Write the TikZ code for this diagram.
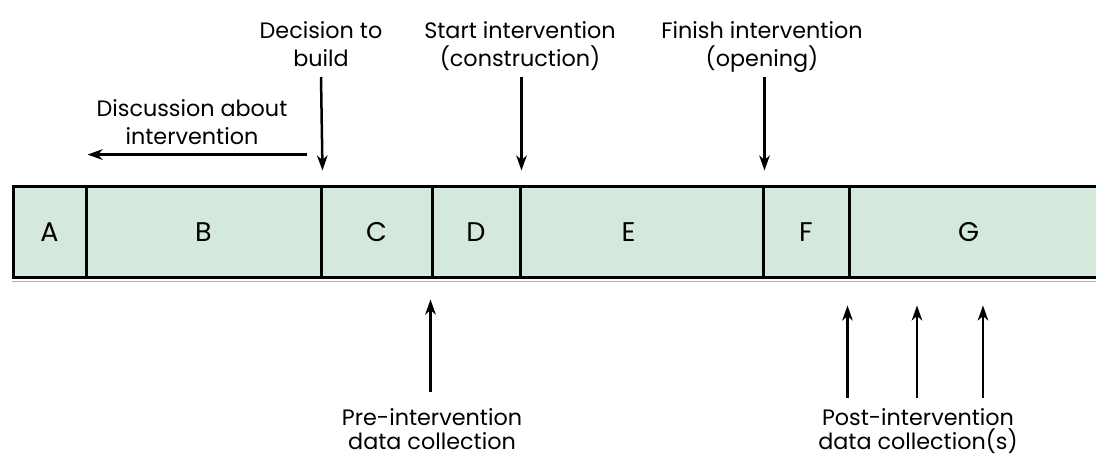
\documentclass[tikz,border=0pt]{standalone}
\usepackage{fontspec}
\setmainfont{Poppins}
\usetikzlibrary{arrows.meta,calc}
\definecolor{cellgreen}{HTML}{D5E8DC}
\begin{document}
\begin{tikzpicture}[x=1pt,y=-1pt,
  cell/.style={draw=black, line width=3pt, fill=cellgreen, minimum height=91pt,
    inner sep=0pt, font=\fontsize{27}{30}\selectfont},
  lbl/.style={align=center, inner sep=0pt, font=\fontsize{22.3}{28}\selectfont},
  lblb/.style={align=center, inner sep=0pt, font=\fontsize{22.3}{24.5}\selectfont},
  arr/.style={line width=2.5pt, -{Stealth[length=15pt,width=10.5pt,inset=4.5pt]}}]
\useasboundingbox (0,0) rectangle (1096,457);
\begin{scope}
\clip (0,0) rectangle (1096,457);
\node[cell, minimum width=73pt]  (A) at (49.5,232.5) {A};
\node[cell, minimum width=235pt] (B) at (203.5,232.5) {B};
\node[cell, minimum width=111pt] (C) at (376.5,232.5) {C};
\node[cell, minimum width=88pt]  (D) at (476,232.5) {D};
\node[cell, minimum width=243pt] (E) at (641.5,232.5) {E\kern26pt};
\node[cell, minimum width=86pt]  (F) at (806,232.5) {F};
\node[cell, minimum width=261pt] (G) at (979.5,232.5) {G\kern22pt};
\draw[gray!60, line width=1.5pt] ($(A.south west)+(0,2.2)$) -- ($(G.south east)+(0,2.2)$);
\end{scope}
% top labels
\node[lbl, anchor=north] (dec) at (321,21) {Decision to\\build};
\node[lbl, anchor=north] (start) at (520,21) {Start intervention\\(construction)};
\node[lbl, anchor=north] (fin) at (762,21) {Finish intervention\\(opening)};
\node[lbl, anchor=north] (disc) at (192,99) {Discussion about\\intervention};
% bottom labels
\node[lblb, anchor=north] (pre) at (432,408) {Pre-intervention\\data collection};
\node[lblb, anchor=north] (post) at (918,408) {Post-intervention\\data collection(s)};
% arrows down
\draw[arr] ($(dec.north)+(0,56)$) -- ($(B.north east)+(0,-15)$);
\draw[arr] ($(start.north -| D.north east)+(0,56)$) -- ($(D.north east)+(0,-15)$);
\draw[arr] ($(fin.north -| E.north east)+(0,56)$) -- ($(E.north east)+(0,-15)$);
% discussion arrow
\draw[arr] ($(disc.south -| B.north east)+(-16,10)$) -- ($(disc.south -| A.north east)+(0,10)$);
% arrows up
\draw[arr] ($(pre.north -| D.south west)+(0,-16)$) -- ($(D.south west)+(0,20)$);
\draw[arr] ($(post.north -| G.south west)+(0,-10)$) -- ($(G.south west)+(0,26)$);
\draw[arr] ($(post.north)+(-1,-10)$) -- ($(post.north |- G.south)+(-1,26)$);
\draw[arr] ($(post.north)+(65,-10)$) -- ($(post.north |- G.south)+(65,26)$);
\end{tikzpicture}
\end{document}
